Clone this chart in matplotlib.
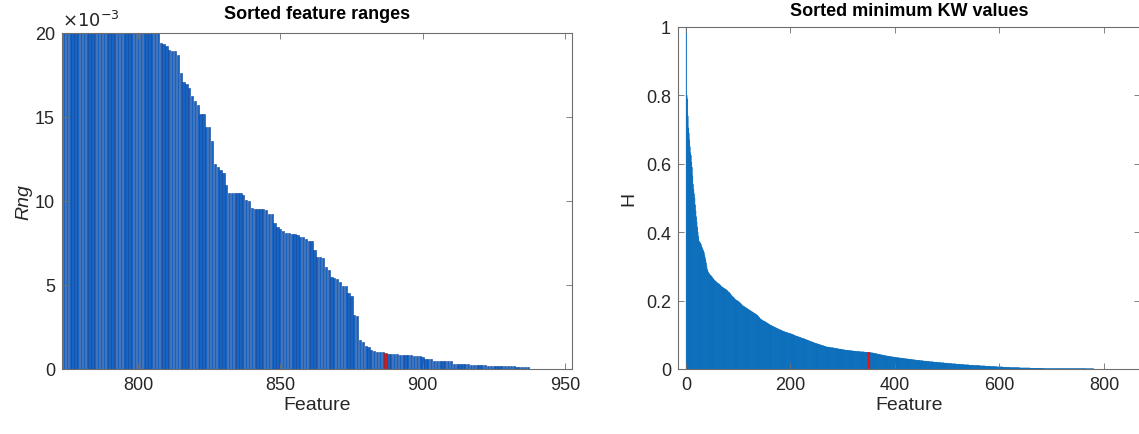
import numpy as np
import matplotlib
matplotlib.use('Agg')
import matplotlib.pyplot as plt

plt.rcParams['font.family'] = ['Liberation Sans', 'DejaVu Sans']

# left panel: sorted feature ranges (units of 1e-3), features 774..937
rng_first = 774
rng_e3 = [31.5, 30.2, 29.0, 28.1, 27.3, 26.6, 26.0, 25.5, 25.0, 24.6,
          24.2, 23.9, 23.6, 23.3, 23.0, 22.8, 22.6, 22.4, 22.2, 22.0,
          21.9, 21.7, 21.6, 21.4, 21.3, 21.2, 21.0, 20.9, 20.8, 20.7,
          20.6, 20.5, 20.4, 20.2,
          19.4, 19.35, 19.2, 19.0, 18.9, 18.9, 18.7, 17.6, 17.1, 16.95,
          16.7, 16.25, 15.95, 15.7, 15.2, 15.2, 14.4, 14.4, 13.6, 12.2,
          12.0, 11.85, 11.65, 10.95, 10.5, 10.45, 10.45, 10.45, 10.45, 10.35,
          10.05, 10.0, 9.6, 9.5, 9.5, 9.5, 9.5, 9.45, 9.2, 9.2,
          8.69, 8.43, 8.33, 8.2, 8.1, 8.1, 8.02, 8.02, 7.96, 7.88,
          7.88, 7.74, 7.62, 7.62, 7.08,
          6.67, 6.65, 6.62, 6.05, 5.9, 5.5, 5.4, 5.38, 5.2, 4.96,
          4.94, 4.55, 4.35, 3.2, 3.15, 1.7, 1.6, 1.35, 1.3, 1.15,
          1.05, 1.04, 1.0, 0.99,
          0.96,
          0.88, 0.88, 0.88, 0.88, 0.83, 0.83, 0.83, 0.83, 0.83, 0.77,
          0.77, 0.77, 0.74, 0.6, 0.6, 0.6, 0.5, 0.5, 0.5, 0.5,
          0.5, 0.45, 0.45, 0.3, 0.3, 0.3, 0.3, 0.3, 0.3, 0.25,
          0.25, 0.25, 0.25, 0.25, 0.25, 0.2, 0.2, 0.2, 0.2, 0.2,
          0.15, 0.15, 0.15, 0.15, 0.15, 0.1, 0.1, 0.1, 0.1, 0.1]
rng_red = 887

# right panel: sorted minimum KW values, features 1..780
kw_h = [1.000, 0.800, 0.790, 0.740, 0.705, 0.690, 0.670, 0.650, 0.632, 0.625,
        0.605, 0.590, 0.565, 0.540, 0.525, 0.512, 0.500, 0.480, 0.462, 0.445,
        0.430, 0.415, 0.400, 0.388, 0.375, 0.372, 0.370, 0.368, 0.365, 0.360,
        0.356, 0.352, 0.348, 0.345, 0.340, 0.332, 0.325, 0.318, 0.310, 0.300,
        0.292, 0.287, 0.283, 0.280, 0.278, 0.276, 0.274, 0.273, 0.271, 0.269,
        0.267, 0.265, 0.263, 0.261, 0.259, 0.258, 0.257, 0.255, 0.254, 0.252,
        0.251, 0.250, 0.249, 0.248, 0.247, 0.245, 0.243, 0.242, 0.240, 0.239,
        0.238, 0.237, 0.236, 0.235, 0.234, 0.233, 0.232, 0.231, 0.230, 0.228,
        0.226, 0.225, 0.224, 0.222, 0.220, 0.218, 0.216, 0.214, 0.212, 0.211,
        0.210, 0.208, 0.206, 0.204, 0.203, 0.202, 0.201, 0.200, 0.199, 0.198,
        0.197, 0.196, 0.194, 0.193, 0.192, 0.190, 0.188, 0.186, 0.185, 0.184,
        0.183, 0.182, 0.181, 0.180, 0.179, 0.178, 0.177, 0.176, 0.175, 0.174,
        0.173, 0.172, 0.171, 0.170, 0.169, 0.168, 0.167, 0.166, 0.165, 0.164,
        0.163, 0.162, 0.161, 0.160, 0.159, 0.158, 0.157, 0.155, 0.153, 0.151,
        0.150, 0.148, 0.146, 0.145, 0.144, 0.143, 0.142, 0.141, 0.140, 0.140,
        0.139, 0.138, 0.137, 0.136, 0.135, 0.134, 0.133, 0.132, 0.131, 0.130,
        0.129, 0.128, 0.128, 0.127, 0.126, 0.125, 0.124, 0.124, 0.123, 0.122,
        0.121, 0.121, 0.120, 0.119, 0.118, 0.118, 0.117, 0.116, 0.115, 0.115,
        0.114, 0.113, 0.113, 0.112, 0.111, 0.111, 0.110, 0.109, 0.109, 0.108,
        0.108, 0.107, 0.107, 0.106, 0.106, 0.105, 0.105, 0.104, 0.104, 0.103,
        0.103, 0.102, 0.102, 0.101, 0.100, 0.100, 0.099, 0.098, 0.098, 0.097,
        0.096, 0.096, 0.095, 0.095, 0.094, 0.094, 0.093, 0.093, 0.092, 0.092,
        0.091, 0.090, 0.090, 0.089, 0.089, 0.088, 0.088, 0.087, 0.086, 0.086,
        0.085, 0.085, 0.084, 0.083, 0.083, 0.082, 0.082, 0.081, 0.080, 0.080,
        0.079, 0.079, 0.078, 0.077, 0.077, 0.076, 0.076, 0.075, 0.075, 0.074,
        0.074, 0.073, 0.073, 0.072, 0.072, 0.071, 0.071, 0.070, 0.070, 0.069,
        0.069, 0.068, 0.068, 0.067, 0.067, 0.066, 0.066, 0.065, 0.065, 0.064,
        0.064, 0.064, 0.064, 0.063, 0.063, 0.063, 0.063, 0.062, 0.062, 0.062,
        0.062, 0.062, 0.061, 0.061, 0.061, 0.060, 0.060, 0.060, 0.060, 0.059,
        0.059, 0.059, 0.058, 0.058, 0.058, 0.058, 0.057, 0.057, 0.057, 0.057,
        0.056, 0.056, 0.056, 0.056, 0.055, 0.055, 0.055, 0.055, 0.055, 0.054,
        0.054, 0.054, 0.054, 0.054, 0.053, 0.053, 0.053, 0.053, 0.053, 0.053,
        0.052, 0.052, 0.052, 0.052, 0.052, 0.052, 0.051, 0.051, 0.051, 0.051,
        0.051, 0.051, 0.051, 0.050, 0.050, 0.050, 0.050, 0.050, 0.050, 0.050,
        0.050, 0.049, 0.049, 0.049, 0.049, 0.049, 0.049, 0.049, 0.049, 0.049,
        0.048, 0.048, 0.048, 0.048, 0.047, 0.047, 0.047, 0.047, 0.046, 0.046,
        0.046, 0.045, 0.045, 0.045, 0.044, 0.044, 0.044, 0.043, 0.043, 0.043,
        0.042, 0.042, 0.042, 0.041, 0.041, 0.041, 0.040, 0.040, 0.040, 0.039,
        0.039, 0.039, 0.038, 0.038, 0.038, 0.038, 0.037, 0.037, 0.037, 0.037,
        0.036, 0.036, 0.036, 0.036, 0.035, 0.035, 0.035, 0.035, 0.034, 0.034,
        0.034, 0.034, 0.033, 0.033, 0.033, 0.033, 0.033, 0.032, 0.032, 0.032,
        0.032, 0.032, 0.031, 0.031, 0.031, 0.031, 0.031, 0.030, 0.030, 0.030,
        0.030, 0.030, 0.029, 0.029, 0.029, 0.029, 0.029, 0.028, 0.028, 0.028,
        0.028, 0.028, 0.027, 0.027, 0.027, 0.027, 0.027, 0.026, 0.026, 0.026,
        0.026, 0.026, 0.025, 0.025, 0.025, 0.025, 0.025, 0.025, 0.024, 0.024,
        0.024, 0.024, 0.024, 0.024, 0.023, 0.023, 0.023, 0.023, 0.023, 0.023,
        0.022, 0.022, 0.022, 0.022, 0.022, 0.022, 0.021, 0.021, 0.021, 0.021,
        0.021, 0.021, 0.021, 0.020, 0.020, 0.020, 0.020, 0.020, 0.020, 0.020,
        0.019, 0.019, 0.019, 0.019, 0.019, 0.019, 0.019, 0.018, 0.018, 0.018,
        0.018, 0.018, 0.018, 0.018, 0.017, 0.017, 0.017, 0.017, 0.017, 0.017,
        0.017, 0.016, 0.016, 0.016, 0.016, 0.016, 0.016, 0.016, 0.015, 0.015,
        0.015, 0.015, 0.015, 0.015, 0.015, 0.015, 0.014, 0.014, 0.014, 0.014,
        0.014, 0.014, 0.014, 0.014, 0.013, 0.013, 0.013, 0.013, 0.013, 0.013,
        0.013, 0.013, 0.012, 0.012, 0.012, 0.012, 0.012, 0.012, 0.012, 0.012,
        0.012, 0.011, 0.011, 0.011, 0.011, 0.011, 0.011, 0.011, 0.011, 0.011,
        0.010, 0.010, 0.010, 0.010, 0.010, 0.010, 0.010, 0.010, 0.010, 0.010,
        0.010, 0.010, 0.009, 0.009, 0.009, 0.009, 0.009, 0.009, 0.009, 0.009,
        0.009, 0.009, 0.008, 0.008, 0.008, 0.008, 0.008, 0.008, 0.008, 0.008,
        0.008, 0.008, 0.008, 0.007, 0.007, 0.007, 0.007, 0.007, 0.007, 0.007,
        0.007, 0.007, 0.007, 0.007, 0.006, 0.006, 0.006, 0.006, 0.006, 0.006,
        0.006, 0.006, 0.006, 0.006, 0.006, 0.006, 0.005, 0.005, 0.005, 0.005,
        0.005, 0.005, 0.005, 0.005, 0.005, 0.005, 0.005, 0.005, 0.005, 0.004,
        0.004, 0.004, 0.004, 0.004, 0.004, 0.004, 0.004, 0.004, 0.004, 0.004,
        0.004, 0.004, 0.004, 0.004, 0.004, 0.004, 0.004, 0.004, 0.003, 0.003,
        0.003, 0.003, 0.003, 0.003, 0.003, 0.003, 0.003, 0.003, 0.003, 0.003,
        0.003, 0.003, 0.003, 0.003, 0.003, 0.003, 0.003, 0.003, 0.002, 0.002,
        0.002, 0.002, 0.002, 0.002, 0.002, 0.002, 0.002, 0.002, 0.002, 0.002,
        0.002, 0.002, 0.002, 0.002, 0.002, 0.002, 0.002, 0.002, 0.002, 0.002,
        0.002, 0.002, 0.002, 0.002, 0.002, 0.001, 0.001, 0.001, 0.001, 0.001,
        0.001, 0.001, 0.001, 0.001, 0.001, 0.001, 0.001, 0.001, 0.001, 0.001,
        0.001, 0.001, 0.001, 0.001, 0.001, 0.001, 0.001, 0.001, 0.001, 0.001,
        0.001, 0.001, 0.001, 0.001, 0.001, 0.001, 0.001, 0.001, 0.001, 0.001,
        0.001, 0.001, 0.001, 0.001, 0.001, 0.001, 0.001, 0.001, 0.001, 0.001,
        0.001, 0.001, 0.001, 0.001, 0.001, 0.001, 0.001, 0.001, 0.001, 0.001,
        0.001, 0.001, 0.001, 0.001, 0.001, 0.001, 0.001, 0.001, 0.001, 0.001,
        0.001, 0.001, 0.001, 0.001, 0.001, 0.001, 0.001, 0.001, 0.001, 0.001,
        0.001, 0.001, 0.001, 0.001, 0.001, 0.0005, 0.0005, 0.0005, 0.0005, 0.0005,
        0.0005, 0.0005, 0.0005, 0.0005, 0.0005, 0.0005, 0.0005, 0.0005, 0.0005, 0.0005]
kw_red = 350

spine_col = '#6e6e6e'
txt_col = '#262626'

fig = plt.figure(figsize=(11.39, 4.35), dpi=100)
ax1 = fig.add_axes([62/1139, 1-370/435, 510/1139, 336/435])
ax2 = fig.add_axes([678/1139, 1-370/435, 462/1139, 342/435])

# ---- left (y plotted in units of 1e-3, MATLAB style exponent label)
feat1 = np.arange(rng_first, rng_first + len(rng_e3))
cols1 = ['#d7191c' if f == rng_red else '#1663c2' for f in feat1]
edges1 = ['#a01010' if f == rng_red else '#0b449a' for f in feat1]
ax1.bar(feat1, rng_e3, width=0.8, color=cols1, edgecolor=edges1, linewidth=0.4)
ax1.set_xlim(773.3, 952.5)
ax1.set_ylim(0, 20)
ax1.set_xticks([800, 850, 900, 950])
ax1.set_yticks([0, 5, 10, 15, 20])
ax1.text(0.0, 1.01, r'$\times10^{-3}$', transform=ax1.transAxes, fontsize=13,
         color=txt_col, ha='left', va='bottom')
ax1.set_title('Sorted feature ranges', fontsize=13, fontweight='bold', pad=11)
ax1.set_xlabel('Feature', fontsize=14, color=txt_col, labelpad=2)
ax1.set_ylabel('Rng', fontsize=14, style='italic', color=txt_col, labelpad=2)

# ---- right
feat2 = np.arange(1, len(kw_h) + 1)
ax2.bar(feat2, kw_h, width=1.0, color='#0a72c2', edgecolor='#0a6cba',
        linewidth=0.3, snap=False)
ax2.bar([kw_red], [kw_h[kw_red - 1]], width=5, color='#ee1111',
        edgecolor='none', snap=False)
ax2.set_xlim(-15, 869)
ax2.set_ylim(0, 1)
ax2.set_xticks([0, 200, 400, 600, 800])
ax2.set_yticks([0, 0.2, 0.4, 0.6, 0.8, 1])
ax2.set_yticklabels(['0', '0.2', '0.4', '0.6', '0.8', '1'])
ax2.set_title('Sorted minimum KW values', fontsize=13, fontweight='bold', pad=9)
ax2.set_xlabel('Feature', fontsize=14, color=txt_col, labelpad=2)
ax2.set_ylabel('H', fontsize=14, color=txt_col, labelpad=6)

for ax in (ax1, ax2):
    ax.tick_params(direction='in', top=True, right=True, length=4, width=0.6,
                   colors=spine_col, labelcolor=txt_col, labelsize=13, pad=5)
    for s in ax.spines.values():
        s.set_color(spine_col)
        s.set_linewidth(0.8)

fig.savefig('out.png', dpi=100)
